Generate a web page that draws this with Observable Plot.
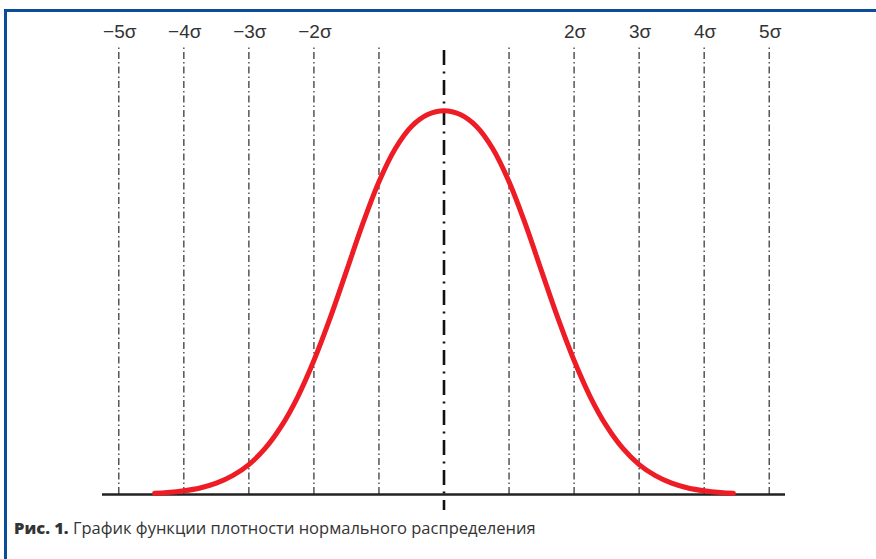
<!DOCTYPE html>
<html><head><meta charset="utf-8">
<script src="https://cdn.jsdelivr.net/npm/d3@7"></script>
<script src="https://cdn.jsdelivr.net/npm/@observablehq/plot@0.6"></script>
<style>
body{margin:0;background:#fff;width:876px;height:559px;overflow:hidden;}
#frame{position:absolute;left:4px;top:9px;width:872px;height:550px;border-top:3px solid #0a4e9b;border-left:3px solid #0a4e9b;box-sizing:border-box;}
#chart{position:absolute;left:0;top:0;}
#caption{position:absolute;left:14px;top:516px;font-family:"Open Sans",sans-serif;font-size:16.5px;color:#333;white-space:nowrap;}
#caption b{font-weight:800;}
</style></head><body>
<div id="frame"></div>
<div id="chart"></div>
<div id="caption"><b>Рис. 1.</b> График функции плотности нормального распределения</div>
<script>
// curve positions in sigma units and relative density (peak = 1)
const sigmaPositions = [-4.45,-4.25,-4.0,-3.75,-3.5,-3.25,-3.0,-2.75,-2.5,-2.25,-2.0,-1.75,-1.5,-1.25,-1.0,-0.75,-0.5,-0.25,0,
  0.25,0.5,0.75,1.0,1.25,1.5,1.75,2.0,2.25,2.5,2.75,3.0,3.25,3.5,3.75,4.0,4.25,4.45];
const density = [0.003,0.005,0.0096,0.017,0.0295,0.049,0.078,0.12,0.178,0.254,0.349,0.46,0.582,0.705,0.815,0.901,0.959,0.99,1.0,
  0.99,0.959,0.901,0.815,0.705,0.582,0.46,0.349,0.254,0.178,0.12,0.078,0.049,0.0295,0.017,0.0096,0.005,0.003];
const gridSigmas = [-5,-4,-3,-2,-1,1,2,3,4,5];
const centerSigma = [0];
const labelSigmas = [-5,-4,-3,-2,2,3,4,5];
const labelText = ["\u22125\u03c3","\u22124\u03c3","\u22123\u03c3","\u22122\u03c3","2\u03c3","3\u03c3","4\u03c3","5\u03c3"];

const curve = sigmaPositions.map((s,i)=>({s, d: density[i]}));

const chart = Plot.plot({
  width: 876, height: 510,
  marginLeft: 102, marginRight: 91, marginTop: 45, marginBottom: 16,
  x: {domain: [-5.25, 5.25], axis: null},
  y: {domain: [0, 1.17], axis: null},
  style: {background: "transparent"},
  marks: [
    Plot.ruleX(gridSigmas, {x: d=>d, y1: 0, y2: 1.17, stroke: "#555", strokeWidth: 1.5, strokeDasharray: "7 3 1.5 3"}),
    Plot.ruleX(centerSigma, {x: d=>d, y1: -0.055, y2: 1.17, stroke: "#111", strokeWidth: 2.6, strokeDasharray: "15 6.5 2 6.5"}),
    Plot.ruleY([0], {stroke: "#222", strokeWidth: 2.5}),
    Plot.line(curve, {x: "s", y: "d", stroke: "#ee1c25", strokeWidth: 5, curve: "catmull-rom"}),
    Plot.text(labelSigmas, {x: d=>d, text: (d,i)=>labelText[i], frameAnchor: "top", lineAnchor: "middle", dy: -14, dx: 1, fontSize: 19, fill: "#333", fontFamily: "Liberation Sans"})
  ]
});
document.getElementById("chart").appendChild(chart);
</script>
</body></html>
